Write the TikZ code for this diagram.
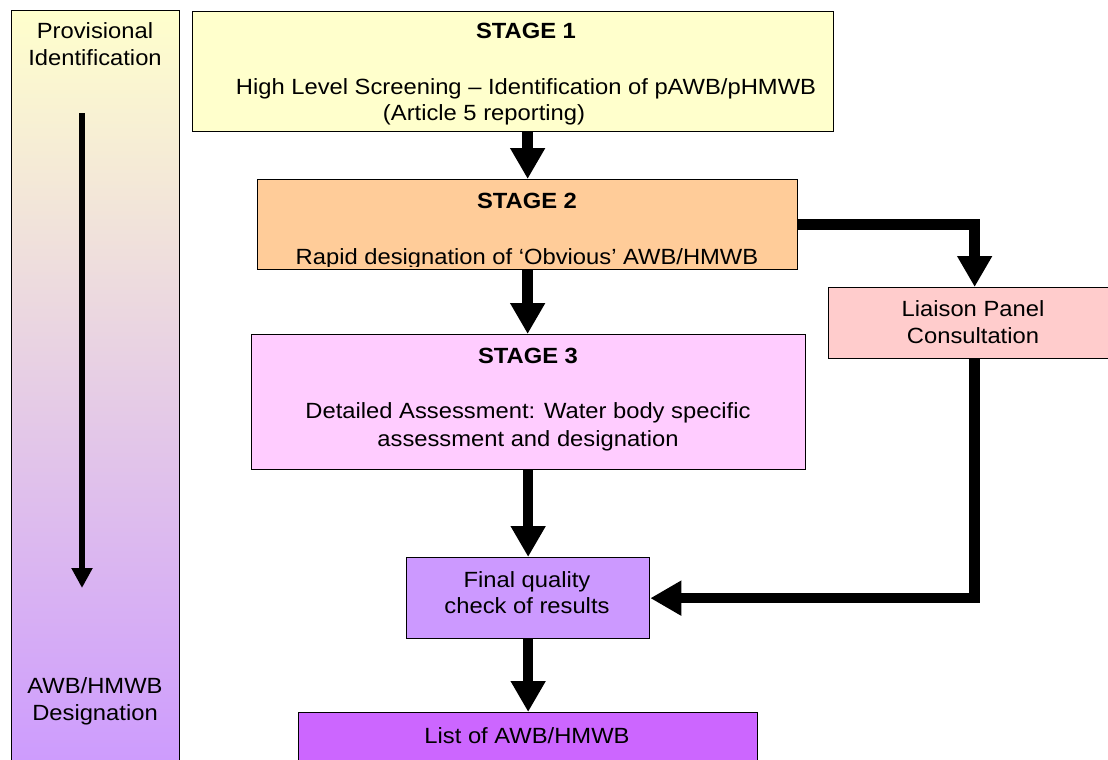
\documentclass[tikz,border=0pt]{standalone}
\usepackage{fontspec}
\setmainfont{Liberation Sans}[FakeStretch=1.08]
\usetikzlibrary{arrows.meta}
\definecolor{leftTop}{HTML}{FFFFCC}
\definecolor{leftBot}{HTML}{CC99FF}
\definecolor{sOne}{HTML}{FFFFCC}
\definecolor{sTwo}{HTML}{FFCC99}
\definecolor{sThree}{HTML}{FFCCFF}
\definecolor{liaison}{HTML}{FFCCCC}
\definecolor{finalq}{HTML}{CC99FF}
\definecolor{listc}{HTML}{CC66FF}
\begin{document}
\begin{tikzpicture}[x=1pt,y=-1pt,
  box/.style={draw=black, line width=1.3pt, inner sep=0pt, anchor=north west},
  txt/.style={anchor=base, inner sep=0pt, font=\fontsize{22}{27}\selectfont},
  btxt/.style={anchor=base, inner sep=0pt, font=\fontsize{22}{27}\selectfont\bfseries},
  bigarrow/.style={line width=10.5pt, -{Triangle[width=33pt,length=31pt]}, line join=miter},
  thinarrow/.style={line width=6pt, -{Triangle[width=20pt,length=20pt]}}
]
\useasboundingbox (0,0) rectangle (1108,760);
\clip (0,0) rectangle (1108,760);

% left column
\node[box, minimum width=168pt, minimum height=770pt, top color=leftTop, bottom color=leftBot] (left) at (11,10) {};
\node[txt] (lt1) at (95,39) {Provisional};
\node[txt] (lt2) at (95,66) {Identification};
\node[txt] (lt3) at (95,693) {AWB/HMWB};
\node[txt] (lt4) at (95,720) {Designation};
\coordinate (la1) at (82,113);
\coordinate (la2) at (82,588);
\draw[thinarrow] (la1) -- (la2);

% boxes
\node[box, minimum width=641pt, minimum height=120pt, fill=sOne] (s1) at (192,11) {};
\node[box, minimum width=540pt, minimum height=90pt, fill=sTwo] (s2) at (257,179) {};
\node[box, minimum width=554pt, minimum height=135pt, fill=sThree] (s3) at (251,334) {};
\node[box, minimum width=292pt, minimum height=71pt, fill=liaison] (li) at (828,287) {};
\node[box, minimum width=243pt, minimum height=81pt, fill=finalq] (fq) at (406,557) {};
\node[box, minimum width=459pt, minimum height=70pt, fill=listc] (ls) at (298,712) {};

% stage 1 text
\node[btxt] (t1a) at (526,39) {STAGE 1};
\node[txt] (t1b) at (526,95) {High Level Screening – Identification of pAWB/pHMWB};
\begin{scope}
  \clip (192,11) rectangle (833,124.5);
  \node[txt] (t1c) at (484,120) {(Article 5 reporting)};
\end{scope}

% stage 2 text
\node[btxt] (t2a) at (527,208) {STAGE 2};
\begin{scope}
  \clip (257,179) rectangle (797,266);
  \node[txt] (t2b) at (527,264) {Rapid designation of ‘Obvious’ AWB/HMWB};
\end{scope}

% stage 3 text
\node[btxt] (t3a) at (528,363) {STAGE 3};
\node[txt] (t3b) at (528,418) {Detailed Assessment: Water body specific};
\node[txt] (t3c) at (528,446) {assessment and designation};

% liaison
\node[txt] (tla) at (973,316) {Liaison Panel};
\node[txt] (tlb) at (973,343) {Consultation};

% final quality
\node[txt] (tfa) at (527,587) {Final quality};
\node[txt] (tfb) at (527,613) {check of results};

% list
\node[txt] (tls) at (527,743) {List of AWB/HMWB};

% arrows
\draw[bigarrow] (s2.north |- s1.south) -- (s2.north);
\draw[bigarrow] (s2.south) -- (s2.south |- s3.north);
\draw[bigarrow] (fq.north |- s3.south) -- (fq.north);
\draw[bigarrow] (fq.south) -- (ls.north);
\draw[bigarrow] (s2.east) -| (li.north);
\draw[bigarrow] (li.south) |- (fq.east);
\end{tikzpicture}
\end{document}
